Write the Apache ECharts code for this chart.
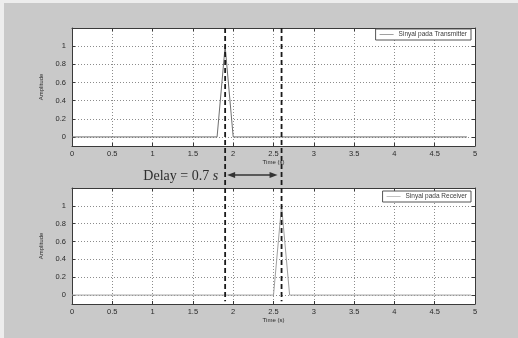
<!DOCTYPE html>
<html>
<head>
<meta charset="utf-8">
<script src="https://cdn.jsdelivr.net/npm/echarts@6/dist/echarts.min.js"></script>
<style>
  html, body { margin: 0; padding: 0; background: #ececec; }
  #chart { width: 518px; height: 338px; }
</style>
</head>
<body>
<div id="chart"></div>
<script>
// Transmitted pulse (top panel)
const timeTx = [0, 1.8, 1.9, 2.0, 4.9];
const ampTx  = [0, 0,   1,   0,   0];
// Received pulse (bottom panel)
const timeRx = [0, 2.5, 2.6, 2.7, 4.95];
const ampRx  = [0, 0,   1,   0,   0];
// Peak instants of both pulses, joined by the delay marker
const peakTimes = [1.9, 2.6];
// Axis ticks
const xTicks = [0, 0.5, 1, 1.5, 2, 2.5, 3, 3.5, 4, 4.5, 5];
const yTicks = [0, 0.2, 0.4, 0.6, 0.8, 1];
const seriesNames = ['Sinyal pada Transmitter', 'Sinyal pada Receiver'];

const chart = echarts.init(document.getElementById('chart'));

const axisColor = '#3a3a3a';
const tickFont = { fontFamily: 'Liberation Sans, Arial, sans-serif', fontSize: 7.5, color: '#2a2a2a' };
const gridLine = { show: true, lineStyle: { color: '#8c8c8c', type: [1, 2], width: 1 } };

function xAxes(gi) {
  return [{
    type: 'value', gridIndex: gi, min: 0, max: 5, interval: 0.5,
    position: 'bottom',
    name: 'Time (s)', nameLocation: 'middle', nameGap: 12,
    nameTextStyle: { fontFamily: 'Liberation Sans, Arial, sans-serif', fontSize: 6, color: '#2a2a2a' },
    axisLine: { onZero: false, lineStyle: { color: axisColor, width: 1 } },
    axisTick: { inside: true, length: 3, customValues: xTicks, lineStyle: { color: axisColor } },
    axisLabel: Object.assign({ margin: 4, customValues: xTicks, formatter: v => String(+v.toFixed(1)) }, tickFont),
    splitLine: gridLine
  }, {
    type: 'value', gridIndex: gi, min: 0, max: 5, interval: 0.5,
    position: 'top',
    axisLine: { onZero: false, lineStyle: { color: axisColor, width: 1 } },
    axisTick: { inside: true, length: 3, lineStyle: { color: axisColor } },
    axisLabel: { show: false },
    splitLine: { show: false }
  }];
}

function yAxes(gi) {
  return [{
    type: 'value', gridIndex: gi, min: -0.1, max: 1.2,
    position: 'left',
    name: 'Amplitude', nameLocation: 'middle', nameGap: 18, nameRotate: 90,
    nameTextStyle: { fontFamily: 'Liberation Sans, Arial, sans-serif', fontSize: 6, color: '#2a2a2a' },
    axisLine: { onZero: false, lineStyle: { color: axisColor, width: 1 } },
    axisTick: { inside: true, length: 3, customValues: yTicks, lineStyle: { color: axisColor } },
    axisLabel: Object.assign({ margin: 6, customValues: yTicks, formatter: v => String(+v.toFixed(1)) }, tickFont),
    splitLine: gridLine
  }, {
    type: 'value', gridIndex: gi, min: -0.1, max: 1.2,
    position: 'right',
    axisLine: { onZero: false, lineStyle: { color: axisColor, width: 1 } },
    axisTick: { inside: true, length: 3, customValues: yTicks, lineStyle: { color: axisColor } },
    axisLabel: { show: false },
    splitLine: { show: false }
  }];
}

const legendBase = {
  orient: 'vertical',
  backgroundColor: '#fff',
  borderColor: '#555',
  borderWidth: 1,
  borderRadius: 0,
  padding: [2, 4, 2, 4],
  itemWidth: 14,
  itemHeight: 4,
  itemGap: 2,
  textStyle: { fontFamily: 'Liberation Sans, Arial, sans-serif', fontSize: 6.5, color: '#3a3a3a' }
};
const legendIcon = 'path://M0,2 L14,2 L14,2.6 L0,2.6 Z';

chart.setOption({
  backgroundColor: '#c9c9c9',
  animation: false,
  grid: [
    { left: 72, top: 28, width: 403, height: 118, show: true, backgroundColor: '#fff', borderWidth: 0 },
    { left: 72, top: 188, width: 403, height: 116, show: true, backgroundColor: '#fff', borderWidth: 0 }
  ],
  xAxis: xAxes(0).concat(xAxes(1)),
  yAxis: yAxes(0).concat(yAxes(1)),
  legend: [
    Object.assign({}, legendBase, { data: [{ name: seriesNames[0], icon: legendIcon }], right: 47, top: 29 }),
    Object.assign({}, legendBase, { data: [{ name: seriesNames[1], icon: legendIcon }], right: 47, top: 191 })
  ],
  series: [
    {
      name: seriesNames[0], type: 'line', xAxisIndex: 0, yAxisIndex: 0,
      data: timeTx.map((t, i) => [t, ampTx[i]]),
      showSymbol: false, symbol: 'none',
      lineStyle: { color: '#707070', width: 1 }, itemStyle: { color: '#606060' }
    },
    {
      name: seriesNames[1], type: 'line', xAxisIndex: 2, yAxisIndex: 2,
      data: timeRx.map((t, i) => [t, ampRx[i]]),
      showSymbol: false, symbol: 'none',
      lineStyle: { color: '#a0a0a0', width: 1 }, itemStyle: { color: '#9a9a9a' }
    }
  ]
});

// Overlay: dashed peak markers spanning both panels, and the delay arrow
function drawOverlay() {
  const graphics = [
    { type: 'rect', shape: { x: 0, y: 0, width: 4, height: 338 }, style: { fill: '#ededed' }, silent: true },
    { type: 'rect', shape: { x: 0, y: 0, width: 518, height: 3 }, style: { fill: '#ededed' }, silent: true }
  ];
  peakTimes.forEach(t => {
    const a = chart.convertToPixel({ xAxisIndex: 0, yAxisIndex: 0 }, [t, 1.2]);
    const b = chart.convertToPixel({ xAxisIndex: 2, yAxisIndex: 2 }, [t, -0.07]);
    graphics.push({
      type: 'line', z: 100,
      shape: { x1: a[0], y1: a[1], x2: b[0], y2: b[1] },
      style: { stroke: '#1a1a1a', lineWidth: 1.8, lineDash: [5, 3] }
    });
  });
  // Delay arrow sits in the gap between the panels
  const gapY = chart.convertToPixel({ xAxisIndex: 2, yAxisIndex: 2 }, [0, 1.345])[1];
  const xa = chart.convertToPixel({ xAxisIndex: 2, yAxisIndex: 2 }, [peakTimes[0], 0])[0] + 2;
  const xb = chart.convertToPixel({ xAxisIndex: 2, yAxisIndex: 2 }, [peakTimes[1], 0])[0] - 4;
  const head = 8, half = 3;
  graphics.push(
    { type: 'line', z: 100, shape: { x1: xa + head - 1, y1: gapY, x2: xb - head + 1, y2: gapY },
      style: { stroke: '#333', lineWidth: 1.6 } },
    { type: 'polygon', z: 100, shape: { points: [[xa, gapY], [xa + head, gapY - half], [xa + head, gapY + half]] },
      style: { fill: '#333' } },
    { type: 'polygon', z: 100, shape: { points: [[xb, gapY], [xb - head, gapY - half], [xb - head, gapY + half]] },
      style: { fill: '#333' } }
  );
  const delay = (peakTimes[1] - peakTimes[0]).toFixed(1);
  graphics.push({
    type: 'text', z: 100,
    x: xa - 9, y: gapY + 1,
    style: {
      text: '{a|Delay = ' + delay + ' }{b|s}',
      align: 'right', verticalAlign: 'middle',
      rich: {
        a: { fontFamily: 'Liberation Serif, Times New Roman, serif', fontSize: 14, fill: '#2e2e2e' },
        b: { fontFamily: 'Liberation Serif, Times New Roman, serif', fontSize: 14, fontStyle: 'italic', fill: '#2e2e2e' }
      }
    }
  });
  chart.setOption({ graphic: graphics });
}
drawOverlay();
</script>
</body>
</html>
